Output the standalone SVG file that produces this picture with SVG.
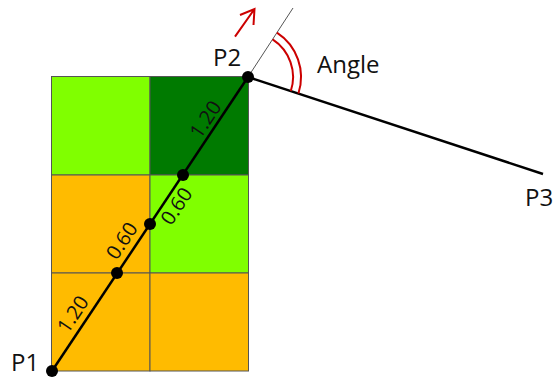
<svg xmlns="http://www.w3.org/2000/svg" width="554" height="378" viewBox="0 0 554 378">
<defs>
<style>
.cell{stroke:#555;stroke-width:1}
.lg{fill:#80ff00}
.dg{fill:#007a00}
.or{fill:#ffbb00}
.lbl{font-family:"Open Sans","Liberation Sans",sans-serif;font-size:24px;fill:#111}
.num{font-family:"Open Sans","Liberation Sans",sans-serif;font-size:20px;fill:#111;text-anchor:middle}
.dot{fill:#000}
.red{fill:none;stroke:#cc0000;stroke-width:2}
</style>
</defs>
<g id="grid">
<rect class="cell lg" x="51.5" y="76.5" width="98.5" height="98.5"/>
<rect class="cell dg" x="150" y="76.5" width="98.5" height="98.5"/>
<rect class="cell or" x="51.5" y="175" width="98.5" height="98"/>
<rect class="cell lg" x="150" y="175" width="98.5" height="98"/>
<rect class="cell or" x="51.5" y="273" width="98.5" height="98"/>
<rect class="cell or" x="150" y="273" width="98.5" height="98"/>
</g>
<g id="connectors">
<line x1="248" y1="77" x2="293" y2="8" stroke="#555" stroke-width="1"/>
<line x1="52" y1="371" x2="248" y2="77" stroke="#000" stroke-width="2.5"/>
<line x1="248" y1="77" x2="543" y2="174" stroke="#000" stroke-width="2.5"/>
</g>
<g id="angle">
<path class="red" d="M276.9,32.6 A53,53 0 0 1 298.4,93.5"/>
<path class="red" d="M272.6,39.3 A45,45 0 0 1 290.8,91"/>
<path class="red" stroke-width="2.8" stroke-linejoin="miter" d="M235,36.7 L254.5,9 M240,15 L254.5,9 L253.5,25"/>
</g>
<g id="points">
<circle class="dot" cx="52" cy="371" r="6"/>
<circle class="dot" cx="117" cy="273" r="6"/>
<circle class="dot" cx="150" cy="224" r="6"/>
<circle class="dot" cx="183" cy="175" r="6"/>
<circle class="dot" cx="248" cy="77" r="6"/>
</g>
<g id="labels">
<text class="lbl" x="213" y="66">P2</text>
<text class="lbl" x="11" y="371">P1</text>
<text class="lbl" x="525" y="206">P3</text>
<text class="lbl" x="317" y="73">Angle</text>
</g>
<g id="lengths">
<text class="num" transform="translate(215.5,126) rotate(-56.31)" x="0" y="-5">1.20</text>
<text class="num" transform="translate(166.5,199.5) rotate(-56.31)" x="0" y="19">0.60</text>
<text class="num" transform="translate(133.5,248.5) rotate(-56.31)" x="0" y="-7">0.60</text>
<text class="num" transform="translate(84.5,322) rotate(-56.31)" x="0" y="-7">1.20</text>
</g>
</svg>
